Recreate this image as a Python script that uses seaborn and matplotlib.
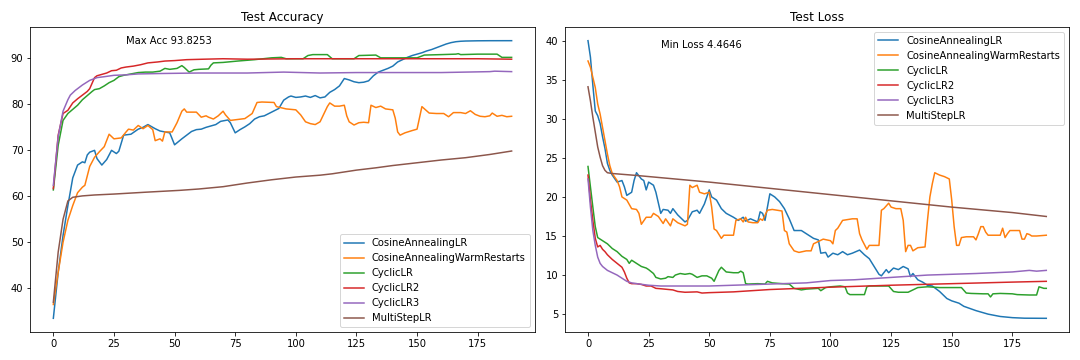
import pandas as pd
import matplotlib
matplotlib.use("Agg")
import matplotlib.pyplot as plt
import seaborn as sns

# =====================================
# Data
# =====================================

schedulers = [
    "CosineAnnealingLR",
    "CosineAnnealingWarmRestarts",
    "CyclicLR",
    "CyclicLR2",
    "CyclicLR3",
    "MultiStepLR"
]

# ---- test accuracy ----
acc_cos_ep = [0, 2, 4, 6, 8, 10, 12, 13, 14, 15, 17, 18, 20, 22, 24, 26, 27, 29, 32, 35, 37, 39, 42, 44, 46, 48,
              50, 53, 55, 57, 59, 61, 63, 65, 67, 69, 72, 73, 75, 77, 79, 81, 83, 85, 87, 90, 93, 94, 95, 97, 98,
              100, 102, 104, 106, 108, 110, 112, 114, 116, 118, 120, 122, 124, 126, 128, 130, 132, 134, 136, 138,
              140, 142, 144, 146, 148, 150, 152, 154, 156, 158, 160, 162, 164, 166, 168, 170, 175, 180, 189]
acc_cos = [33.5, 43.5, 51.5, 58.0, 64.0, 66.8, 67.5, 67.3, 69.0, 69.6, 70.0, 68.2, 66.8, 68.0, 70.0, 69.3, 69.8,
           73.3, 73.5, 74.6, 75.0, 75.6, 74.7, 74.2, 74.0, 73.8, 71.2, 72.5, 73.3, 74.1, 74.5, 74.6, 75.0, 75.3,
           75.6, 76.3, 76.6, 76.0, 73.8, 74.5, 75.1, 75.8, 76.8, 77.3, 77.5, 78.3, 79.1, 80.0, 80.9, 81.6, 81.8,
           81.5, 81.6, 81.8, 81.5, 81.9, 81.4, 81.6, 82.6, 83.2, 84.0, 85.6, 85.3, 84.9, 84.7, 84.8, 85.1, 86.2,
           87.0, 87.4, 87.8, 88.3, 89.2, 89.7, 90.2, 90.6, 90.9, 91.2, 91.6, 91.9, 92.3, 92.7, 93.1, 93.4, 93.6,
           93.7, 93.75, 93.8, 93.82, 93.8253]

acc_warm_ep = [0, 2, 4, 6, 8, 10, 12, 13, 15, 17, 19, 21, 23, 25, 28, 30, 31, 33, 35, 37, 39, 41, 42, 44, 45, 46,
               49, 51, 53, 54, 55, 59, 61, 63, 64, 66, 68, 70, 71, 73, 76, 79, 82, 84, 86, 91, 92, 96, 100, 102,
               104, 106, 108, 110, 113, 114, 116, 118, 120, 121, 122, 124, 126, 128, 130, 131, 133, 135, 137, 140,
               141, 142, 143, 145, 148, 150, 152, 155, 158, 161, 163, 165, 168, 170, 172, 174, 176, 178, 180, 181,
               183, 185, 187, 189]
acc_warm = [36.5, 43.5, 50.0, 54.8, 58.0, 60.8, 62.0, 62.4, 66.5, 68.5, 69.7, 70.8, 73.5, 72.5, 72.7, 74.0, 74.6,
            74.4, 75.4, 74.7, 75.4, 74.5, 72.1, 72.5, 72.0, 74.0, 74.0, 76.0, 78.5, 79.0, 78.3, 78.3, 77.2, 77.5,
            77.2, 76.8, 77.5, 78.5, 77.7, 76.5, 76.7, 76.9, 78.0, 80.4, 80.5, 80.4, 79.5, 79.0, 78.8, 77.7, 76.2,
            75.8, 75.6, 76.2, 79.5, 80.3, 79.6, 79.6, 79.8, 77.5, 76.2, 75.5, 76.0, 76.1, 76.0, 79.8, 79.3, 79.6,
            79.0, 78.8, 77.0, 74.0, 73.3, 73.8, 74.3, 74.6, 79.5, 78.1, 78.0, 78.0, 77.3, 78.2, 78.2, 78.0, 78.6,
            77.8, 77.4, 77.3, 77.5, 78.1, 77.4, 77.6, 77.3, 77.4]

acc_cyc_ep = [0, 2, 4, 6, 8, 10, 12, 14, 16, 17, 19, 21, 23, 25, 27, 29, 32, 35, 38, 41, 44, 46, 48, 51, 53, 54,
              56, 58, 60, 64, 65, 66, 70, 76, 83, 90, 94, 96, 103, 105, 107, 113, 115, 124, 126, 133, 135, 150,
              153, 160, 166, 167, 168, 175, 183, 185, 189]
acc_cyc = [61.4, 71.1, 76.5, 78.0, 78.9, 79.8, 81.0, 81.9, 82.8, 83.2, 83.4, 84.0, 84.7, 85.2, 86.0, 86.3, 86.6,
           86.9, 87.0, 87.0, 87.2, 87.8, 87.6, 87.8, 88.4, 88.0, 87.0, 87.5, 87.6, 87.7, 88.5, 89.0, 89.1, 89.4,
           89.7, 90.1, 90.2, 89.9, 89.9, 90.6, 90.8, 90.8, 89.9, 89.9, 90.6, 90.7, 90.1, 90.1, 90.7, 90.8, 90.9,
           91.0, 90.8, 90.9, 90.9, 90.2, 90.2]

acc_cyc2_ep = [0, 2, 4, 6, 8, 10, 12, 14, 15, 17, 18, 20, 22, 24, 26, 28, 30, 33, 36, 39, 43, 46, 50, 55, 62, 70,
               80, 100, 125, 150, 175, 189]
acc_cyc2 = [61.7, 73.3, 78.0, 78.7, 80.3, 81.2, 82.0, 82.8, 83.4, 85.8, 86.2, 86.5, 86.8, 87.3, 87.4, 87.9, 88.1,
            88.3, 88.6, 89.0, 89.2, 89.4, 89.5, 89.7, 89.8, 89.9, 89.8, 89.9, 89.9, 89.9, 89.9, 89.8]

acc_cyc3_ep = [0, 2, 4, 6, 7, 9, 12, 15, 18, 21, 25, 30, 35, 45, 60, 80, 95, 110, 125, 140, 160, 180, 182, 189]
acc_cyc3 = [62.4, 73.0, 78.5, 81.0, 82.0, 83.0, 84.2, 85.2, 85.8, 86.0, 86.3, 86.4, 86.6, 86.7, 86.8, 86.8, 87.0,
            86.8, 86.9, 86.9, 86.9, 87.1, 87.2, 87.1]

acc_multi_ep = [0, 2, 4, 6, 8, 12, 17, 25, 38, 52, 60, 70, 80, 90, 100, 110, 115, 120, 125, 133, 140, 150, 160,
                170, 180, 189]
acc_multi = [37.0, 47.9, 55.0, 59.0, 59.8, 60.1, 60.3, 60.5, 60.9, 61.3, 61.6, 62.1, 62.9, 63.6, 64.2, 64.6, 64.9,
             65.3, 65.7, 66.2, 66.7, 67.3, 67.9, 68.4, 69.1, 69.85]

# ---- test loss ----
loss_cos_ep = [0, 1, 2, 3, 4, 5, 6, 7, 8, 9, 10, 12, 14, 15, 16, 18, 19, 20, 22, 23, 24, 25, 27, 28, 30, 31, 33,
               34, 35, 37, 40, 41, 43, 45, 46, 48, 50, 51, 53, 55, 57, 60, 62, 64, 65, 67, 70, 71, 72, 73, 75, 77,
               79, 81, 83, 85, 88, 90, 93, 95, 96, 98, 99, 101, 103, 105, 107, 109, 112, 114, 116, 118, 120, 121,
               123, 124, 126, 128, 130, 132, 133, 134, 136, 138, 140, 142, 145, 148, 150, 153, 155, 160, 165, 170,
               175, 180, 189]
loss_cos = [40.0, 37.9, 34.3, 31.0, 30.4, 29.4, 27.7, 26.2, 24.3, 23.4, 22.8, 21.9, 22.1, 21.3, 20.2, 20.6, 22.1,
            23.1, 22.3, 22.1, 20.9, 21.9, 21.5, 20.6, 17.9, 18.4, 18.3, 17.9, 18.5, 17.7, 16.8, 17.0, 18.1, 18.3,
            17.9, 19.1, 20.9, 20.0, 19.6, 18.5, 17.9, 17.4, 17.0, 17.4, 16.9, 17.2, 16.8, 18.1, 17.9, 17.0, 20.4,
            20.0, 19.4, 18.5, 17.2, 15.7, 15.7, 15.3, 14.7, 14.5, 12.8, 12.9, 12.3, 12.8, 12.6, 13.0, 12.6, 12.8,
            13.2, 12.6, 12.1, 11.1, 10.1, 9.9, 10.7, 10.3, 10.9, 10.7, 11.1, 10.8, 9.8, 10.2, 9.4, 9.1, 8.7, 8.6,
            7.9, 7.0, 6.7, 6.4, 6.0, 5.45, 5.0, 4.7, 4.55, 4.48, 4.4646]

loss_warm_ep = [0, 1, 2, 3, 4, 5, 6, 7, 8, 9, 10, 12, 13, 14, 16, 18, 20, 21, 22, 24, 26, 27, 29, 31, 32, 34, 35,
                37, 40, 41, 42, 43, 45, 46, 48, 50, 51, 52, 53, 55, 56, 60, 61, 63, 64, 65, 66, 68, 70, 71, 72, 74,
                76, 80, 81, 82, 83, 85, 87, 90, 92, 93, 95, 97, 100, 101, 102, 103, 105, 107, 109, 111, 112, 113,
                115, 116, 118, 120, 121, 122, 124, 125, 127, 129, 130, 131, 132, 133, 134, 136, 139, 140, 141, 142,
                143, 145, 147, 149, 150, 151, 152, 153, 154, 156, 159, 160, 161, 162, 163, 164, 165, 168, 170, 171,
                172, 173, 174, 178, 179, 180, 181, 182, 183, 185, 189]
loss_warm = [37.4, 36.6, 35.3, 34.0, 31.9, 30.6, 28.9, 27.2, 25.5, 24.0, 23.0, 22.1, 21.3, 20.0, 19.6, 18.5, 18.4,
             17.9, 16.5, 17.4, 17.4, 17.9, 17.5, 16.6, 17.2, 16.3, 17.2, 16.7, 16.3, 16.5, 21.5, 21.2, 21.5, 20.6,
             20.4, 20.6, 18.7, 15.9, 15.7, 14.7, 15.1, 15.1, 17.0, 17.2, 16.8, 17.4, 16.8, 16.7, 16.7, 17.2, 17.0,
             18.3, 18.4, 18.2, 15.7, 15.5, 14.0, 13.1, 12.9, 13.1, 13.1, 14.0, 14.3, 14.6, 14.4, 14.0, 15.7, 16.0,
             17.0, 17.1, 17.2, 17.2, 15.3, 14.5, 13.3, 13.8, 13.8, 13.8, 18.3, 18.5, 19.2, 18.7, 18.5, 18.5, 17.0,
             13.0, 13.8, 13.8, 13.1, 13.5, 13.6, 17.0, 20.0, 21.7, 23.1, 22.8, 22.6, 22.3, 19.6, 16.2, 13.8, 13.8,
             14.8, 14.9, 14.9, 14.5, 15.3, 16.2, 16.2, 15.5, 15.1, 15.1, 15.1, 16.0, 14.8, 15.3, 15.7, 15.7, 14.6,
             14.6, 15.3, 15.2, 15.0, 15.0, 15.1]

loss_cyc_ep = [0, 1, 2, 3, 4, 5, 6, 8, 10, 12, 14, 16, 17, 18, 20, 22, 24, 25, 27, 28, 30, 32, 33, 35, 36, 38, 40,
               42, 43, 45, 47, 49, 51, 52, 54, 55, 57, 60, 62, 63, 64, 65, 66, 70, 73, 74, 76, 80, 83, 85, 88, 90,
               95, 96, 98, 100, 104, 106, 107, 108, 114, 115, 116, 124, 126, 128, 132, 134, 136, 140, 145, 150,
               154, 156, 158, 163, 165, 166, 167, 170, 175, 177, 182, 185, 186, 188, 189]
loss_cyc = [23.9, 21.3, 18.7, 16.2, 14.8, 14.6, 14.4, 14.0, 13.4, 13.0, 12.4, 12.0, 11.5, 11.9, 11.5, 11.1, 10.9,
            10.7, 10.2, 9.7, 9.5, 9.6, 9.8, 9.7, 10.0, 10.2, 10.1, 10.2, 10.1, 9.7, 9.9, 9.9, 9.6, 9.2, 10.6, 11.0,
            10.4, 10.3, 10.3, 10.5, 10.3, 8.9, 8.85, 8.9, 8.85, 9.2, 9.0, 8.9, 8.85, 8.3, 8.1, 8.2, 8.3, 8.0, 8.4,
            8.5, 8.6, 8.5, 7.7, 7.5, 7.5, 8.5, 8.6, 8.6, 7.9, 7.8, 7.8, 8.1, 8.4, 8.5, 8.4, 8.4, 8.4, 7.7, 7.65,
            7.6, 7.6, 7.2, 7.6, 7.65, 7.6, 7.5, 7.45, 7.45, 8.5, 8.3, 8.3]

loss_cyc2_ep = [0, 1, 2, 3, 4, 5, 6, 7, 8, 10, 12, 14, 15, 16, 17, 18, 20, 22, 24, 26, 28, 30, 35, 37, 40, 45, 47,
                50, 60, 75, 100, 125, 150, 175, 189]
loss_cyc2 = [22.8, 19.6, 17.0, 14.7, 13.6, 13.8, 13.3, 13.0, 12.6, 12.0, 11.5, 11.0, 10.4, 9.6, 9.0, 8.9, 8.9,
             8.8, 8.6, 8.6, 8.3, 8.25, 8.1, 7.9, 7.8, 7.85, 7.7, 7.75, 7.85, 8.15, 8.45, 8.7, 8.9, 9.1, 9.2]

loss_cyc3_ep = [0, 1, 2, 3, 4, 5, 6, 8, 10, 12, 14, 16, 18, 20, 25, 30, 50, 60, 75, 90, 100, 110, 125, 140, 150,
                160, 175, 182, 185, 189]
loss_cyc3 = [22.3, 18.7, 15.7, 13.8, 12.3, 11.5, 11.1, 10.6, 10.3, 10.0, 9.6, 9.2, 9.0, 8.9, 8.7, 8.6, 8.6, 8.7,
             8.85, 9.0, 9.3, 9.4, 9.7, 10.0, 10.1, 10.2, 10.4, 10.6, 10.5, 10.6]

loss_multi_ep = [0, 1, 2, 3, 4, 5, 6, 7, 8, 10, 20, 50, 75, 100, 125, 150, 175, 189]
loss_multi = [34.1, 32.3, 30.2, 28.3, 26.4, 25.1, 24.0, 23.4, 23.1, 23.0, 22.75, 21.9, 21.1, 20.3, 19.5, 18.7,
              18.0, 17.5]

max_acc_text = "Max Acc 93.8253"
min_loss_text = "Min Loss 4.4646"

# =====================================
# Long-form tables
# =====================================

acc_series = [(acc_cos_ep, acc_cos), (acc_warm_ep, acc_warm), (acc_cyc_ep, acc_cyc),
              (acc_cyc2_ep, acc_cyc2), (acc_cyc3_ep, acc_cyc3), (acc_multi_ep, acc_multi)]
loss_series = [(loss_cos_ep, loss_cos), (loss_warm_ep, loss_warm), (loss_cyc_ep, loss_cyc),
               (loss_cyc2_ep, loss_cyc2), (loss_cyc3_ep, loss_cyc3), (loss_multi_ep, loss_multi)]


def to_frame(series):
    parts = []
    for name, (ep, val) in zip(schedulers, series):
        parts.append(pd.DataFrame({"epoch": ep, "value": val, "scheduler": name}))
    return pd.concat(parts, ignore_index=True)


df_acc = to_frame(acc_series)
df_loss = to_frame(loss_series)

palette = sns.color_palette("tab10", len(schedulers))

# =====================================
# Plot
# =====================================

fig, axes = plt.subplots(1, 2, figsize=(15, 5), dpi=72)

panels = [
    (axes[0], df_acc, "Test Accuracy", "lower right", 93.8253, max_acc_text),
    (axes[1], df_loss, "Test Loss", "upper right", 39.5, min_loss_text),
]

for ax, df, title, loc, text_y, text in panels:
    sns.lineplot(data=df, x="epoch", y="value", hue="scheduler",
                 hue_order=schedulers, palette=palette, ax=ax)
    leg = ax.get_legend()
    handles = leg.legend_handles
    labels = [t.get_text() for t in leg.get_texts()]
    ax.legend(handles, labels, loc=loc)
    ax.set_xlabel("")
    ax.set_ylabel("")
    ax.set_title(title)
    ax.text(30, text_y, text, va="center")

plt.tight_layout()
plt.savefig("out.png")
plt.close()
